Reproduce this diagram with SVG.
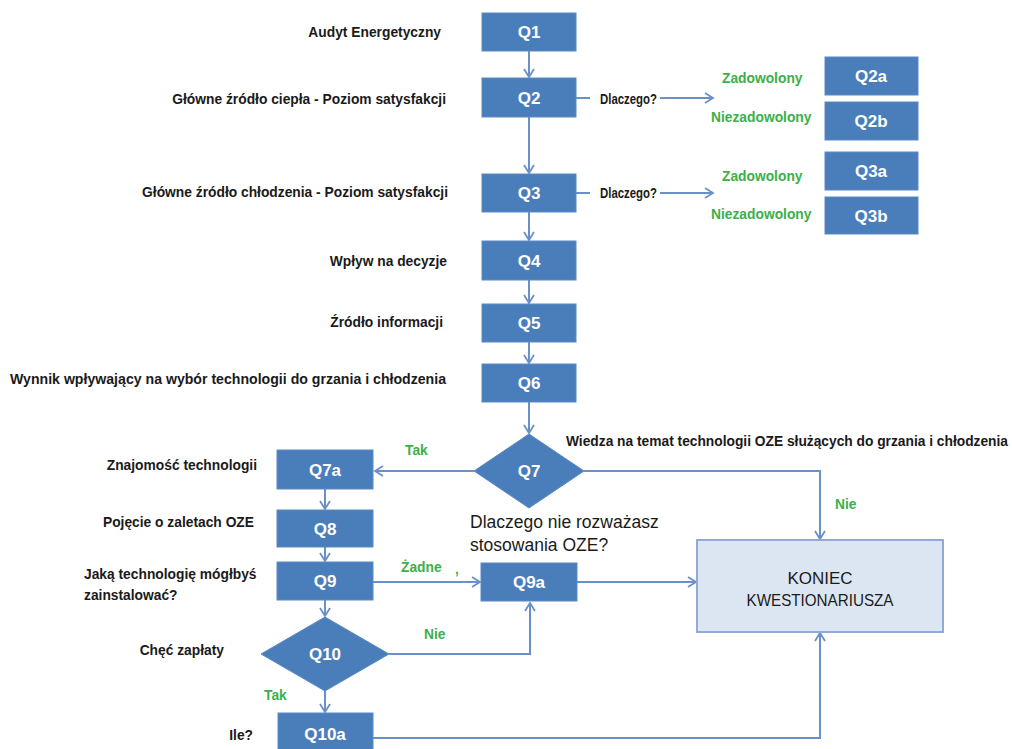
<svg xmlns="http://www.w3.org/2000/svg" width="1012" height="749" viewBox="0 0 1012 749">
<style>
.box{fill:#4a7ebb;stroke:#5b8ac4;stroke-width:1}
.bt{fill:#fff;font-family:"Liberation Sans",Arial,sans-serif;font-size:17px;font-weight:bold;text-anchor:middle}
.lb{fill:#1a1a1a;font-family:"Liberation Sans",Arial,sans-serif;font-size:13.8px;font-weight:bold}
.r{text-anchor:end}
.g{fill:#3cb04a;font-family:"Liberation Sans",Arial,sans-serif;font-size:13.8px;font-weight:bold}
.c{fill:none;stroke:#6a90c8;stroke-width:2}
.big{fill:#1a1a1a;font-family:"Liberation Sans",Arial,sans-serif;font-size:17.5px}
.kt{fill:#1a1a1a;font-family:"Liberation Sans",Arial,sans-serif;font-size:17px;text-anchor:middle}
</style>
<defs>
<marker id="a" markerWidth="12" markerHeight="12" refX="10" refY="6" orient="auto" markerUnits="userSpaceOnUse">
<path d="M2,1 L10,6 L2,11" fill="none" stroke="#6a90c8" stroke-width="1.8"/>
</marker>
</defs>
<rect width="1012" height="749" fill="#fff"/>

<g id="connectors">
<line class="c" x1="529" y1="51" x2="529" y2="77" marker-end="url(#a)"/>
<line class="c" x1="529" y1="117" x2="529" y2="173" marker-end="url(#a)"/>
<line class="c" x1="529" y1="212" x2="529" y2="240" marker-end="url(#a)"/>
<line class="c" x1="529" y1="280" x2="529" y2="303" marker-end="url(#a)"/>
<line class="c" x1="529" y1="342" x2="529" y2="363" marker-end="url(#a)"/>
<line class="c" x1="529" y1="402" x2="529" y2="433" marker-end="url(#a)"/>
<line class="c" x1="576" y1="98" x2="590" y2="98"/>
<line class="c" x1="660" y1="98" x2="713" y2="98" marker-end="url(#a)"/>
<line class="c" x1="576" y1="193" x2="590" y2="193"/>
<line class="c" x1="660" y1="193" x2="713" y2="193" marker-end="url(#a)"/>
<line class="c" x1="474" y1="471" x2="375" y2="471" marker-end="url(#a)"/>
<polyline class="c" points="584,471 820,471 820,539" marker-end="url(#a)"/>
<line class="c" x1="325" y1="489" x2="325" y2="509" marker-end="url(#a)"/>
<line class="c" x1="325" y1="547" x2="325" y2="561" marker-end="url(#a)"/>
<line class="c" x1="325" y1="600" x2="325" y2="616" marker-end="url(#a)"/>
<line class="c" x1="373" y1="582" x2="480" y2="582" marker-end="url(#a)"/>
<line class="c" x1="577" y1="582" x2="696" y2="582" marker-end="url(#a)"/>
<polyline class="c" points="389,654 530,654 530,603" marker-end="url(#a)"/>
<line class="c" x1="325" y1="691" x2="325" y2="712" marker-end="url(#a)"/>
<polyline class="c" points="373,738 820,738 820,633" marker-end="url(#a)"/>
</g>

<g id="Q1"><rect class="box" x="482" y="13" width="94" height="38"/><text class="bt" x="529" y="38">Q1</text></g>
<g id="Q2"><rect class="box" x="482" y="78" width="94" height="39"/><text class="bt" x="529" y="104">Q2</text></g>
<g id="Q3"><rect class="box" x="482" y="174" width="94" height="38"/><text class="bt" x="529" y="199">Q3</text></g>
<g id="Q4"><rect class="box" x="482" y="241" width="94" height="39"/><text class="bt" x="529" y="267">Q4</text></g>
<g id="Q5"><rect class="box" x="482" y="304" width="94" height="38"/><text class="bt" x="529" y="329">Q5</text></g>
<g id="Q6"><rect class="box" x="482" y="364" width="94" height="38"/><text class="bt" x="529" y="389">Q6</text></g>
<g id="Q2a"><rect class="box" x="825" y="57" width="93" height="38"/><text class="bt" x="871" y="82">Q2a</text></g>
<g id="Q2b"><rect class="box" x="825" y="102" width="93" height="38"/><text class="bt" x="871" y="127">Q2b</text></g>
<g id="Q3a"><rect class="box" x="825" y="152" width="93" height="38"/><text class="bt" x="871" y="177">Q3a</text></g>
<g id="Q3b"><rect class="box" x="825" y="197" width="93" height="37"/><text class="bt" x="871" y="222">Q3b</text></g>
<g id="Q7"><polygon class="box" points="529,434 584,471 529,508 474,471"/><text class="bt" x="529" y="477">Q7</text></g>
<g id="Q7a"><rect class="box" x="277" y="450" width="96" height="39"/><text class="bt" x="325" y="476">Q7a</text></g>
<g id="Q8"><rect class="box" x="277" y="510" width="96" height="37"/><text class="bt" x="325" y="535">Q8</text></g>
<g id="Q9"><rect class="box" x="277" y="562" width="96" height="38"/><text class="bt" x="325" y="587">Q9</text></g>
<g id="Q9a"><rect class="box" x="481" y="563" width="96" height="38"/><text class="bt" x="529" y="588">Q9a</text></g>
<g id="Q10"><polygon class="box" points="325,617 389,654 325,691 261,654"/><text class="bt" x="325" y="660">Q10</text></g>
<g id="Q10a"><rect class="box" x="278" y="713" width="95" height="40"/><text class="bt" x="325" y="740">Q10a</text></g>
<g id="KONIEC"><rect x="697" y="540" width="246" height="92" fill="#dce6f2" stroke="#8fabd6" stroke-width="2"/>
<text class="kt" x="820" y="584">KONIEC</text>
<text class="kt" x="820" y="606" textLength="147" lengthAdjust="spacingAndGlyphs">KWESTIONARIUSZA</text></g>

<g id="labels">
<text class="lb r" x="441" y="37">Audyt Energetyczny</text>
<text class="lb r" x="446" y="104">Główne źródło ciepła - Poziom satysfakcji</text>
<text class="lb r" x="448" y="197">Główne źródło chłodzenia - Poziom satysfakcji</text>
<text class="lb r" x="447" y="266">Wpływ na decyzje</text>
<text class="lb r" x="443" y="327">Źródło informacji</text>
<text class="lb" x="10" y="384" textLength="436" lengthAdjust="spacingAndGlyphs">Wynnik wpływający na wybór technologii do grzania i chłodzenia</text>
<text class="lb" x="600" y="104" textLength="57" lengthAdjust="spacingAndGlyphs">Dlaczego?</text>
<text class="lb" x="600" y="198" textLength="57" lengthAdjust="spacingAndGlyphs">Dlaczego?</text>
<text class="g" x="722" y="83">Zadowolony</text>
<text class="g" x="711" y="122">Niezadowolony</text>
<text class="g" x="722" y="181">Zadowolony</text>
<text class="g" x="711" y="219">Niezadowolony</text>
<text class="lb" x="566" y="446" textLength="442" lengthAdjust="spacingAndGlyphs">Wiedza na temat technologii OZE służących do grzania i chłodzenia</text>
<text class="g" x="405" y="455">Tak</text>
<text class="g" x="835" y="509">Nie</text>
<text class="lb r" x="257" y="470">Znajomość technologii</text>
<text class="lb r" x="254" y="527">Pojęcie o zaletach OZE</text>
<text class="lb" x="84" y="579">Jaką technologię mógłbyś</text>
<text class="lb" x="84" y="600">zainstalować?</text>
<text class="big" x="470" y="528">Dlaczego nie rozważasz</text>
<text class="big" x="470" y="551">stosowania OZE?</text>
<text class="g" x="401" y="572">Żadne</text>
<text class="g" x="455" y="574">,</text>
<text class="g" x="424" y="639">Nie</text>
<text class="lb r" x="224" y="655">Chęć zapłaty</text>
<text class="g" x="264" y="700">Tak</text>
<text class="lb r" x="253" y="740">Ile?</text>
</g>
</svg>
